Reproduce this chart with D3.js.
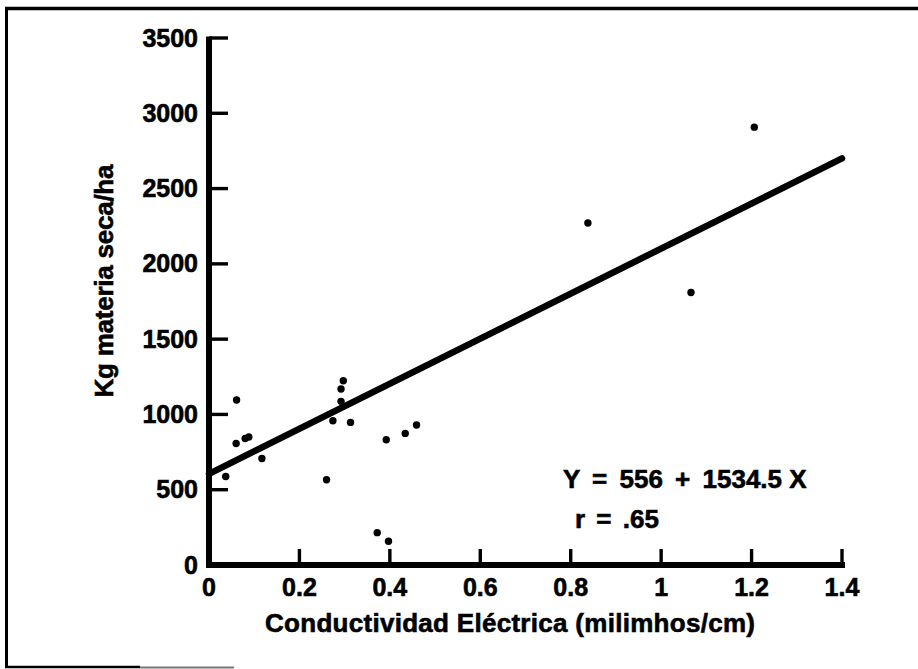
<!DOCTYPE html>
<html>
<head>
<meta charset="utf-8">
<script src="https://cdn.jsdelivr.net/npm/d3@7"></script>
<style>
  body { margin: 0; background: #fff; }
  svg text { font-family: "Liberation Sans", Arial, Helvetica, sans-serif; font-weight: bold; fill: #000;
    stroke: #000; stroke-width: 0.6px; }
</style>
</head>
<body>
<div id="chart"></div>
<script>
// conductividad (mmhos/cm) vs kg materia seca/ha
const conductivity = [0.037, 0.060, 0.061, 0.080, 0.088, 0.117, 0.260, 0.274, 0.292, 0.292, 0.297, 0.313,
  0.372, 0.392, 0.397, 0.434, 0.459, 0.838, 1.066, 1.206];
const dryMatter = [588, 807, 1096, 840, 850, 707, 566, 958, 1087, 1169, 1224, 947,
  215, 832, 158, 874, 930, 2271, 1810, 2908];

// fitted line as drawn
const fitX = [0, 1.4];
const fitY = [605, 2700];

const xTicks = [0, 0.2, 0.4, 0.6, 0.8, 1, 1.2, 1.4];
const yTicks = [0, 500, 1000, 1500, 2000, 2500, 3000, 3500];

const equationText = "Y = 556 + 1534.5";
const equationVar = " X";
const rText = "r = .65";
const xTitle = "Conductividad Eléctrica (milimhos/cm)";
const yTitle = "Kg materia seca/ha";

const width = 918,
  height = 669;

const x = d3.scaleLinear().domain([0, 1.4]).range([209, 842]);
const y = d3.scaleLinear().domain([0, 3500]).range([565, 38]);

const svg = d3.select("#chart").append("svg").attr("width", width).attr("height", height);

// frame (top + left, short bottom piece)
svg.append("line").attr("x1", 5).attr("x2", width).attr("y1", 8.5).attr("y2", 8.5)
  .attr("stroke", "#000").attr("stroke-width", 3.5);
svg.append("line").attr("x1", 6.5).attr("x2", 6.5).attr("y1", 7).attr("y2", 668)
  .attr("stroke", "#000").attr("stroke-width", 3);
svg.append("line").attr("x1", 5).attr("x2", 140).attr("y1", 667).attr("y2", 667)
  .attr("stroke", "#000").attr("stroke-width", 2.5);
svg.append("line").attr("x1", 140).attr("x2", 234).attr("y1", 667.5).attr("y2", 667.5)
  .attr("stroke", "#777").attr("stroke-width", 2);

// axes
svg.append("line").attr("x1", x(0)).attr("x2", x(0)).attr("y1", y(3500) - 1.5).attr("y2", y(0) + 2)
  .attr("stroke", "#000").attr("stroke-width", 6);
svg.append("line").attr("x1", x(0) - 3).attr("x2", x(1.4) + 3).attr("y1", y(0)).attr("y2", y(0))
  .attr("stroke", "#000").attr("stroke-width", 6);

svg.selectAll(".ytick").data(yTicks.slice(1)).enter().append("line")
  .attr("class", "ytick")
  .attr("x1", x(0)).attr("x2", x(0) + 19)
  .attr("y1", (d) => y(d)).attr("y2", (d) => y(d))
  .attr("stroke", "#000").attr("stroke-width", 3.4);

svg.selectAll(".xtick").data(xTicks.slice(1)).enter().append("line")
  .attr("class", "xtick")
  .attr("x1", (d) => x(d)).attr("x2", (d) => x(d))
  .attr("y1", y(0)).attr("y2", y(0) - 16)
  .attr("stroke", "#000").attr("stroke-width", 3.4);

// tick labels
svg.selectAll(".ylab").data(yTicks).enter().append("text")
  .attr("class", "ylab")
  .attr("x", 198)
  .attr("y", (d) => y(d) + 8.5)
  .attr("text-anchor", "end")
  .style("font-size", "25px")
  .text((d) => d);

svg.selectAll(".xlab").data(xTicks).enter().append("text")
  .attr("class", "xlab")
  .attr("x", (d) => x(d))
  .attr("y", 596)
  .attr("text-anchor", "middle")
  .style("font-size", "25px")
  .text((d) => String(d));

// titles
svg.append("text")
  .attr("x", 510).attr("y", 632)
  .attr("text-anchor", "middle")
  .style("font-size", "26px")
  .attr("textLength", 490)
  .text(xTitle);

svg.append("text")
  .attr("transform", "translate(113,281) rotate(-90)")
  .attr("text-anchor", "middle")
  .style("font-size", "26px")
  .attr("textLength", 233)
  .text(yTitle);

// regression line
const fit = fitX.map((d, i) => [d, fitY[i]]);
svg.append("path")
  .datum(fit)
  .attr("d", d3.line().x((d) => x(d[0])).y((d) => y(d[1])))
  .attr("stroke", "#000").attr("stroke-width", 6.5).attr("stroke-linecap", "round").attr("fill", "none");

// points
svg.selectAll(".dot").data(conductivity).enter().append("circle")
  .attr("class", "dot")
  .attr("cx", (d) => x(d))
  .attr("cy", (d, i) => y(dryMatter[i]))
  .attr("r", 3.7)
  .attr("fill", "#000");

// equation
const eq = svg.append("text")
  .attr("x", 563).attr("y", 488)
  .style("font-size", "26px")
  .style("word-spacing", "5px")
  .text(equationText);
eq.append("tspan").style("word-spacing", "0px").text(equationVar);

svg.append("text")
  .attr("x", 575).attr("y", 528)
  .style("font-size", "26px")
  .style("word-spacing", "4px")
  .text(rText);
</script>
</body>
</html>
